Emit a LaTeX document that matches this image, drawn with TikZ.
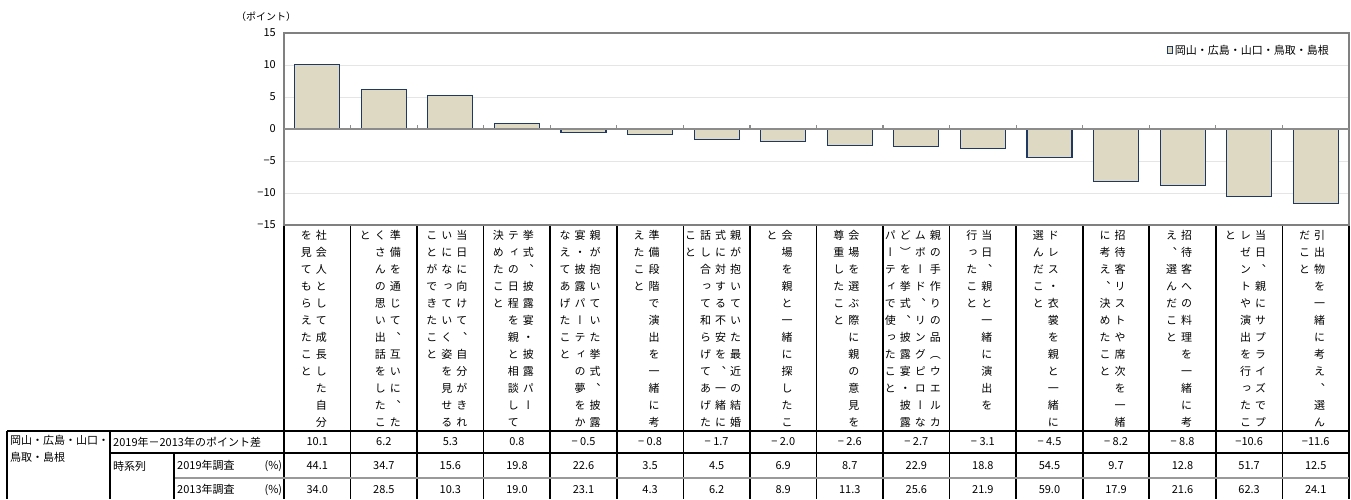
\documentclass[tikz,border=0pt]{standalone}
\usepackage{fontspec}
\setmainfont{Noto Sans CJK JP}
\newfontfamily\tatefont[RawFeature=+vert]{Noto Sans CJK JP}
\usetikzlibrary{positioning}

\definecolor{barfill}{RGB}{221,217,195}
\definecolor{barline}{RGB}{31,56,100}

\makeatletter
% one vertical line of text, one character per row
\newcommand\tate[1]{\vtop{\baselineskip=17pt\lineskiplimit=-\maxdimen
  \@tfor\tatechar:=#1\do{\hbox to 15pt{\hss\tatechar\hss}}}}
\makeatother

\begin{document}
\begin{tikzpicture}[
    x=1pt, y=-1pt,
    font=\fontsize{11}{17}\selectfont,
    grid/.style={line width=1pt, black!10},
    frame/.style={line width=1.2pt, black!50},
    zero/.style={line width=1.2pt, black!45},
    bar/.style={fill=barfill, draw=barline, line width=1.1pt},
    rule/.style={line width=1.6pt, black},
    graydouble/.style={line width=2.2pt, black!40},
    tatecol/.style={anchor=base, inner sep=0pt, font=\tatefont\fontsize{11}{17}\selectfont},
    cell/.style={anchor=west, inner sep=0pt},
    val/.style={inner sep=0pt}
]
    \useasboundingbox (0,0) rectangle (1351,499);
    \def\colw{66.56} % width of one item column

    % === Plot area ===
    \foreach \t in {10,5,-5,-10}
        \draw[grid] (284,{129-6.4*\t}) -- (1349,{129-6.4*\t});
    \draw[frame] (284,33) rectangle (1349,225);
    \foreach \t/\lab [count=\i] in {15/15,10/10,5/5,0/0,-5/−5,-10/−10,-15/−15}
        \node[anchor=east, inner sep=0pt] (ytick\i) at (276,{129-6.4*\t}) {\lab};
    \node[anchor=west, inner sep=0pt, font=\fontsize{10}{10}\selectfont] (unit) at (236,17) {（ポイント）};

    % bars: 2019 minus 2013
    \foreach \v [count=\k] in {10.1,6.2,5.3,0.8,-0.5,-0.8,-1.7,-2.0,-2.6,-2.7,-3.1,-4.5,-8.2,-8.8,-10.6,-11.6}
        \draw[bar] ({284+\colw*(\k-0.5)-22.5},129) rectangle ({284+\colw*(\k-0.5)+22.5},{129-6.4*\v});
    \draw[zero] (284,129) -- (1349,129);
    \foreach \k in {1,...,15}
        \draw[zero] ({284+\colw*\k},129) -- ++(0,-4);

    % legend
    \node[anchor=east, inner sep=0pt] (legend) at (1329,50) {岡山・広島・山口・鳥取・島根};
    \node[bar, line width=0.8pt, minimum width=5pt, minimum height=7pt, inner sep=0pt, left=2pt of legend] (legkey) {};

    % === Item labels (vertical text) ===
    \foreach \k in {0,...,16}
        \draw[rule] ({284+\colw*\k},226) -- ({284+\colw*\k},499);
    \foreach \txt [count=\k] in {
        {\tate{を見てもらえたこと}\tate{社会人として成長した自分}},
        {\tate{と}\tate{くさんの思い出話をしたこ}\tate{準備を通じて、互いに、た}},
        {\tate{ことができたこと}\tate{いになっていく姿を見せる}\tate{当日に向けて、自分がきれ}},
        {\tate{決めたこと}\tate{ティの日程を親と相談して}\tate{挙式、披露宴・披露パー}},
        {\tate{なえてあげたこと}\tate{宴・披露パーティの夢をか}\tate{親が抱いていた挙式、披露}},
        {\tate{えたこと}\tate{準備段階で演出を一緒に考}},
        {\tate{こと}\tate{話し合って和らげてあげた}\tate{式に対する不安を、一緒に}\tate{親が抱いていた最近の結婚}},
        {\tate{と}\tate{会場を親と一緒に探したこ}},
        {\tate{尊重したこと}\tate{会場を選ぶ際に親の意見を}},
        {\tate{パーティで使ったこと}\tate{ど）を挙式、披露宴・披露}\tate{ムボード、リングピローな}\tate{親の手作りの品（ウエルカ}},
        {\tate{行ったこと}\tate{当日、親と一緒に演出を}},
        {\tate{選んだこと}\tate{ドレス・衣裳を親と一緒に}},
        {\tate{に考え、決めたこと}\tate{招待客リストや席次を一緒}},
        {\tate{え、選んだこと}\tate{招待客への料理を一緒に考}},
        {\tate{と}\tate{レゼントや演出を行ったこ}\tate{当日、親にサプライズでプ}},
        {\tate{だこと}\tate{引出物を一緒に考え、選ん}}}
        \node[tatecol] (lab\k) at ({284+\colw*(\k-0.5)-3.5},239) {\txt};

    % === Data table ===
    \draw[rule] (7,431) -- (1349,431);
    \draw[rule] (110,453) -- (1349,453);
    \draw[graydouble] (174,478) -- (1349,478);
    \draw[rule] (7,431) -- (7,499);
    \draw[rule] (110,431) -- (110,499);
    \draw[rule] (174,453) -- (174,499);

    \node[anchor=north west, align=left, inner sep=0pt] (area) at (10,435) {岡山・広島・山口・\\鳥取・島根};
    \node[cell] (diff) at (113,442) {2019年－2013年のポイント差};
    \node[cell] (series) at (113,466) {時系列};
    \node[cell, text width=105pt] (y2019) at (177,466) {\noindent2019年調査\hfill(\%)};
    \node[cell, text width=105pt] (y2013) at (177,490) {\noindent2013年調査\hfill(\%)};

    \foreach \d/\a/\b [count=\k] in {10.1/44.1/34.0, 6.2/34.7/28.5, 5.3/15.6/10.3, 0.8/19.8/19.0,
            − 0.5/22.6/23.1, − 0.8/3.5/4.3, − 1.7/4.5/6.2, − 2.0/6.9/8.9, − 2.6/8.7/11.3, − 2.7/22.9/25.6,
            − 3.1/18.8/21.9, − 4.5/54.5/59.0, − 8.2/9.7/17.9, − 8.8/12.8/21.6, −10.6/51.7/62.3, −11.6/12.5/24.1}
    {
        \node[val] (diff\k) at ({284+\colw*(\k-0.5)},442) {\d};
        \node[val] (pct19\k) at ({284+\colw*(\k-0.5)},466) {\a};
        \node[val] (pct13\k) at ({284+\colw*(\k-0.5)},490) {\b};
    }

\end{tikzpicture}
\end{document}
